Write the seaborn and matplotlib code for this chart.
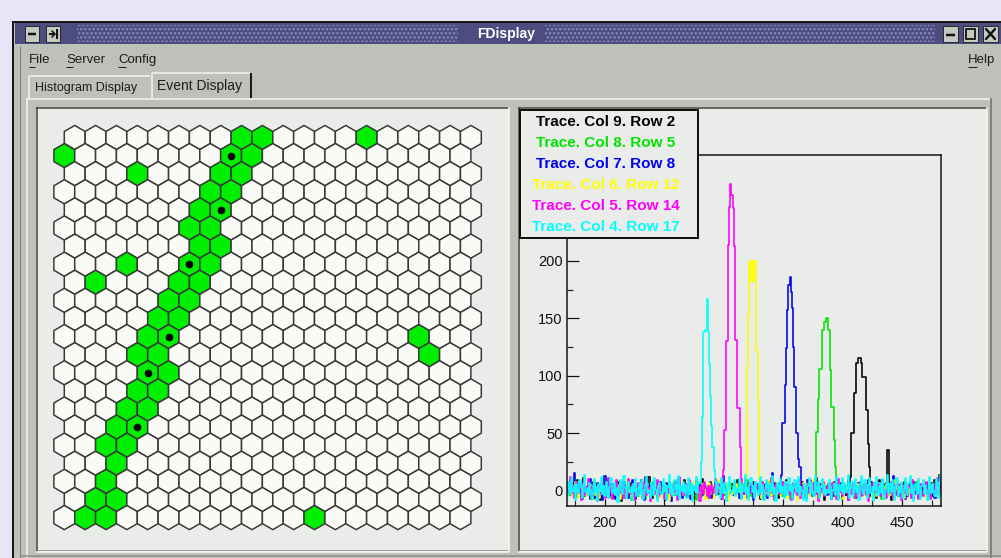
import numpy as np
import pandas as pd
import matplotlib
matplotlib.use("Agg")
import matplotlib.pyplot as plt
from matplotlib.patches import Rectangle
from matplotlib.collections import PolyCollection
import seaborn as sns

# ---------------------------------------------------------------- data
# hit cells of the detector (row, column), 1-based, 22 rows x 20 columns
N_ROWS, N_COLS = 22, 20
GREEN_ROWS = [1, 1, 1, 2, 2, 2, 3, 3, 3, 4, 4, 5, 5, 6, 6, 7, 7, 8, 8, 8,
              9, 9, 9, 10, 10, 11, 11, 12, 12, 12, 13, 13, 13, 14, 14, 15, 15,
              16, 16, 17, 17, 18, 18, 19, 20, 21, 21, 22, 22, 22]
GREEN_COLS = [9, 10, 15, 1, 9, 10, 4, 8, 9, 8, 9, 7, 8, 7, 8, 7, 8, 4, 7, 8,
              2, 6, 7, 6, 7, 5, 6, 5, 6, 18, 4, 5, 18, 5, 6, 4, 5,
              4, 5, 3, 4, 3, 4, 3, 3, 2, 3, 2, 3, 13]

# cells whose traces are shown
TRACE_NAMES = ["Trace. Col 9. Row 2", "Trace. Col 8. Row 5", "Trace. Col 7. Row 8",
               "Trace. Col 6. Row 12", "Trace. Col 5. Row 14", "Trace. Col 4. Row 17"]
TRACE_ROWS = [2, 5, 8, 12, 14, 17]
TRACE_COLS = [9, 8, 7, 6, 5, 4]
TRACE_COLORS = ["#000000", "#00e400", "#0000f0", "#ffff00", "#ff00ff", "#00ffff"]

X_START = 168  # first sample of every trace

NOISE_K = [3,-2,5,1,-4,7,0,-6,2,9,-1,4,-3,6,11,-5,2,0,-2,5,
           -7,1,8,3,-4,0,6,-2,-8,4,2,7,-1,-5,3,10,-3,1,5,-6,
           2,-1,4,8,-4,0,-9,3,6,1,-2,5,-5,2,7,-3,0,4,-7,1,
           6,2,-3,9,0,-4,3,-1,5,12,-2,1,-6,4,2,-3,7,0,-5,3,
           -1,5,2,-8,4,1,6,-2,3,-4,0,8,-1,2,-6,5,3,-3,1,9,
           4,-5,0,7,2,-2,5,-7,3,1,-3,6,0,-1,10,-4,2,4,-6,0,
           3,8,-2,1,-5,4,0,6,-3,2,7,-1,-4,3,1,-8,5,2,-2,6,
           0,-3,4,1,9,-2,3,-6,2,5,-1,0,7,-4,3,1,-2,8,-5,2,
           5,-1,3,-7,0,6,2,-3,4,-1,8,1,-5,3,0,7,-2,4,-6,1,
           -2,6,0,3,-4,9,1,-3,5,2,-7,4,0,6,-1,3,-5,2,8,-3,
           1,4,-6,2,7,-2,0,5,-4,3,11,-1,2,-5,6,0,3,-8,4,1,
           6,-3,2,0,-5,8,3,-1,4,-6,2,7,-2,1,5,-4,0,9,-3,2,
           -4,3,6,1,-2,5,-7,2,0,4,-3,8,1,-1,6,-5,3,2,-2,7,
           2,-6,4,9,-1,3,0,-4,6,2,-3,5,1,-8,4,0,7,-2,3,-5,
           0,5,-3,2,8,-1,4,-5,1,6,-2,3,-6,2,0,7,-3,4,1,-4,
           5,1,-2,7,-4,3,0,6,-5,2,9,-1,3,-3,14,2,-2,5,0,3]
NOISE_G = [0,3,-4,6,1,-2,5,-6,2,8,-1,3,-3,0,7,-5,2,4,-2,1,
           4,-1,2,-7,5,0,3,-3,6,1,-5,2,9,-2,0,4,-6,3,1,-1,
           -3,5,1,-2,4,7,-4,0,3,-6,2,5,-1,3,-8,1,6,0,-3,4,
           2,-5,6,0,-1,3,-7,4,1,5,-2,0,8,-4,2,3,-1,-6,5,1,
           5,0,-3,4,2,-6,1,7,-2,3,0,-4,5,1,-7,6,2,-1,3,-3,
           -1,4,2,-5,6,0,-3,3,1,-8,5,2,-2,7,0,-4,3,1,-6,4,
           3,-2,5,1,-4,8,2,-1,0,4,-6,3,1,-3,6,0,-5,2,7,-1,
           0,6,-4,2,3,-1,5,-7,1,4,-2,0,9,-3,2,-5,4,1,-2,6,
           2,-3,1,5,-6,2,0,4,-2,7,1,-4,3,-1,5,-8,2,6,0,-3,
           4,1,-5,3,0,6,-2,1,-7,4,2,-1,5,-3,0,8,-4,2,3,-2,
           -2,5,0,-4,7,1,-3,4,2,-6,3,0,6,-1,2,-5,4,-2,1,7,
           3,-1,4,2,-5,0,6,-3,1,5,-2,3,-7,2,0,4,-1,5,-4,2,
           1,4,-6,3,0,-2,7,1,-4,2,5,-3,0,6,-1,3,-5,2,4,-2,
           -4,2,5,-1,3,-7,1,4,0,-3,6,2,-2,4,1,-6,3,0,7,-1,
           2,-2,3,6,-4,1,0,5,-3,2,-6,4,1,-1,8,-2,3,-5,2,0,
           5,-3,1,-2,4,2,-5,3,0,6,-1,2,-4,5,1,-3,7,0,-2,3]
NOISE_B = [-2,5,1,9,-3,0,15,4,-5,2,6,-1,3,-7,8,0,-4,3,5,-2,
           10,-1,2,-6,4,0,7,-3,1,5,-8,2,13,-2,0,4,-5,6,1,-3,
           3,-7,6,0,-2,4,1,-4,8,2,-1,5,-6,3,0,9,-3,1,4,-5,
           2,0,-4,6,3,-8,12,1,-2,5,0,-5,3,7,-1,2,-6,4,0,8,
           -3,4,2,-5,7,1,-2,3,-9,5,0,6,-4,2,11,-1,3,-6,1,4,
           6,-2,0,3,-7,5,1,-3,4,9,-2,0,5,-5,2,7,-1,3,-4,0,
           1,5,-6,2,0,8,-3,4,-1,2,-7,6,13,-2,3,0,-5,4,2,-1,
           -4,3,7,-2,1,-6,5,0,3,-3,9,1,-5,2,4,-1,6,-8,2,3,
           5,-1,2,-4,8,0,-3,6,1,-6,3,4,-2,15,0,-5,3,2,-1,7,
           0,-6,4,2,-2,5,3,-8,1,6,-3,2,0,-4,7,1,-2,5,-7,3,
           2,4,-3,9,-1,0,6,-5,3,1,-2,8,-6,4,2,-3,0,5,3,-4,
           -1,6,2,-7,3,4,-2,0,10,-3,5,1,-5,2,6,-1,3,-8,4,0,
           4,-3,1,5,-6,2,7,-1,0,3,-4,6,2,-2,9,-5,1,3,-3,5,
           -5,2,8,0,3,-2,4,-6,1,7,-1,2,-4,5,0,13,-3,2,6,-2,
           3,0,-4,6,2,-7,1,4,-2,5,3,-5,8,0,-1,4,-6,2,1,-3,
           6,-2,3,1,-5,4,0,7,-3,2,-6,5,1,-1,4,8,-4,2,0,9]
NOISE_Y = [1,4,-3,0,6,-5,2,8,-1,3,-6,2,5,-2,0,7,-4,1,3,-3,
           5,-2,0,9,-4,2,3,-6,1,6,-1,4,-3,0,8,-5,2,1,-2,6,
           -3,2,7,-1,4,-7,0,5,2,-4,3,10,-2,1,-5,4,0,6,-3,2,
           4,0,-5,3,8,-2,1,-4,6,0,-7,3,2,-1,5,-3,7,0,-6,3,
           2,-4,6,1,-2,4,-8,3,0,7,-3,2,5,-5,1,9,-1,3,-4,0,
           -1,6,0,-3,5,2,-6,8,1,-2,4,0,-5,3,6,-1,2,-7,4,1,
           7,-3,2,4,-6,1,3,-1,9,0,-4,5,2,-2,0,6,-8,3,1,-3,
           0,3,-5,6,2,-1,8,-4,1,3,-7,4,0,5,-2,1,-4,7,2,-6,
           3,-1,4,0,-6,7,2,-3,5,1,-2,9,-5,2,0,4,-3,6,-1,2,
           -4,5,1,-2,3,8,-6,0,4,-3,2,6,-1,3,-8,1,5,-2,0,7,
           2,-3,6,1,-5,4,0,9,-2,3,-6,2,5,-1,4,-4,1,8,-3,0,
           5,0,-4,3,7,-2,2,-6,1,5,-3,4,0,-7,6,2,-1,3,-5,4,
           -2,4,1,-5,2,6,-3,0,8,-1,3,-4,5,1,-2,7,0,-6,3,2,
           3,-5,7,0,-2,4,1,-7,3,6,-1,2,-4,5,0,3,-3,9,1,-2,
           0,6,-2,4,-6,1,5,-1,2,-3,7,0,-5,3,2,-2,6,1,-4,5,
           4,-2,3,-6,0,8,-3,2,5,-1,1,-5,4,7,-2,0,3,-4,6,2]
NOISE_M = [2,-3,6,12,-1,4,-6,0,8,3,-2,5,-8,1,7,-4,3,0,10,-2,
           4,-5,1,7,-1,3,-9,5,2,-3,8,0,-6,4,1,11,-2,3,-7,6,
           -1,2,9,-4,0,5,-2,7,-6,3,1,-5,10,2,-3,6,0,-8,4,2,
           7,-2,3,0,-6,8,1,-4,5,2,-9,4,0,6,-3,1,9,-5,2,-1,
           3,5,-7,1,4,-2,8,0,-5,3,6,-1,2,-8,5,12,-3,1,4,-4,
           0,6,-3,9,-1,2,-6,4,1,7,-2,3,-9,5,0,-3,8,2,-5,4,
           -6,1,5,-2,3,10,-4,0,6,-1,2,-7,4,8,-3,1,5,-5,2,9,
           2,-4,7,0,-8,3,5,-1,4,-3,9,1,-6,2,7,-2,0,4,-5,3,
           6,1,-3,4,-1,8,-6,2,0,5,-4,3,11,-2,1,-7,6,0,3,-3,
           -2,4,8,-5,2,0,6,-3,1,-8,4,7,-1,3,-4,2,9,-6,1,5,
           3,-6,2,5,-2,9,0,-4,7,1,-3,4,-9,6,2,-1,8,-5,3,0,
           5,2,-4,1,7,-3,3,-7,0,10,-1,4,-5,2,6,-2,0,-8,5,3,
           -3,7,1,-6,4,0,-2,8,-5,3,1,6,-4,2,-9,5,0,7,-1,2,
           4,-1,6,2,-5,3,9,-3,1,-6,4,0,-2,8,3,-7,5,1,-4,6,
           1,5,-8,3,-2,7,0,-4,4,2,-6,9,-1,3,-3,5,-7,2,6,0,
           -5,3,2,8,-3,1,-7,4,0,6,-2,3,11,-4,2,-1,5,-6,3,7]
NOISE_C = [-5,8,2,-3,11,0,4,-8,6,1,-2,9,3,-6,5,14,-1,2,-4,7,
           1,-7,5,10,-2,3,-9,6,0,12,-3,4,-5,8,1,-6,3,11,-2,0,
           7,-4,2,-10,5,9,0,-3,13,2,-6,4,8,-1,3,-8,6,0,10,-5,
           2,6,-3,9,-7,1,5,12,-2,0,-6,8,3,-4,11,1,-9,4,7,-1,
           -3,10,0,5,-8,3,14,-2,6,-5,1,9,-4,2,13,-7,4,0,8,-2,
           5,-6,11,1,-3,7,-9,4,0,12,-2,6,-7,3,9,-1,5,-5,2,10,
           -8,3,6,-1,13,0,-4,8,2,-6,11,4,-2,7,-9,1,5,12,-3,0,
           4,9,-5,2,-1,10,3,-7,6,0,14,-3,2,-8,5,11,-1,4,-6,8,
           0,-4,7,12,-2,5,-8,1,9,3,-5,6,0,13,-3,2,-9,7,4,-1,
           10,-2,3,-6,8,1,-4,11,0,5,-7,2,9,-1,4,12,-5,3,0,-8,
           6,2,-9,4,11,-3,7,0,-5,13,2,-1,8,-6,3,10,-2,5,-4,1,
           -2,9,3,-7,1,6,-4,12,2,-8,5,0,11,-3,7,-1,4,14,-6,2,
           8,-5,2,10,-1,4,-8,6,13,0,-3,9,1,-6,5,11,-2,3,-9,7,
           1,12,-4,3,7,-2,10,-7,0,5,14,-3,6,-1,9,2,-8,4,11,-5,
           3,-1,8,-6,2,11,0,-4,7,13,-2,5,-9,1,6,-3,10,0,-7,4,
           9,-3,5,1,-8,12,3,-2,6,0,-5,10,2,-6,8,14,-1,3,-4,11]

# pulse shapes: (first sample, values)
PULSE_K = (407, [12, 50, 50, 85, 85, 111, 111, 115, 115, 111, 99, 99, 99, 70, 70, 41, 21, 8])
SPIKE_K = (438, [35, 35])
PULSE_G = (377, [10, 51, 51, 80, 106, 106, 140, 140, 147, 147, 150, 140, 140, 105, 73, 73, 44, 21, 8])
PULSE_B = (349, [14, 59, 59, 92, 124, 157, 179, 186, 173, 159, 125, 90, 50, 50, 28, 21, 21, 5])
PULSE_Y = (319, [12, 108, 154, 200, 182, 200, 182, 200, 200, 122, 79, 10])
PULSE_M = (300, [18, 53, 130, 130, 214, 247, 267, 257, 246, 213, 131, 131, 72, 72, 38, 10])
PULSE_C = (280, [8, 25, 64, 138, 138, 140, 167, 138, 110, 82, 56, 38, 18, 8])

X_TICKS = [200, 250, 300, 350, 400, 450]
Y_TICKS = [0, 50, 100, 150, 200]


def build_trace(noise, *pulses):
    vals = list(noise)
    for start, seg in pulses:
        i0 = start - X_START
        vals[i0:i0 + len(seg)] = seg
    return vals


TRACES = [build_trace(NOISE_K, PULSE_K, SPIKE_K), build_trace(NOISE_G, PULSE_G),
          build_trace(NOISE_B, PULSE_B), build_trace(NOISE_Y, PULSE_Y),
          build_trace(NOISE_M, PULSE_M), build_trace(NOISE_C, PULSE_C)]

# ---------------------------------------------------------------- style
W, H = 1001, 558
sns.set_theme(style="white")
plt.rcParams["font.family"] = ["Liberation Sans", "DejaVu Sans"]
plt.rcParams["hatch.linewidth"] = 1.2

GUI = "#bdc1b9"
PANEL = "#e9ece8"
PX = 0.72  # points per pixel at 100 dpi

fig = plt.figure(figsize=(W / 100, H / 100), dpi=100)
fig.patch.set_facecolor("#e6e6f8")


def px_axes(x0, y0, x1, y1, z=1):
    return fig.add_axes([x0 / W, 1 - y1 / H, (x1 - x0) / W, (y1 - y0) / H], zorder=z)


chrome = px_axes(0, 0, W, H, z=0)
chrome.set_xlim(0, W)
chrome.set_ylim(H, 0)
chrome.axis("off")


def rect(ax, x0, y0, x1, y1, fc, ec="none", lw=0, **kw):
    ax.add_patch(Rectangle((x0, y0), x1 - x0, y1 - y0, facecolor=fc, edgecolor=ec,
                           linewidth=lw, **kw))


def hline(ax, x0, x1, y, c, lw=1):
    ax.plot([x0, x1], [y, y], color=c, lw=lw * PX, solid_capstyle="butt")


def vline(ax, x, y0, y1, c, lw=1):
    ax.plot([x, x], [y0, y1], color=c, lw=lw * PX, solid_capstyle="butt")


# window body and border
rect(chrome, 13, 22, W + 2, H + 2, GUI, "#151515", 2 * PX)
vline(chrome, 19.5, 46, H, "#7d8079", 1)

# title bar
rect(chrome, 15, 23, W, 44, "#4c4c80")
for x0, x1 in [(77, 458), (545, 935)]:
    rect(chrome, x0, 25, x1, 42, "none", "#8a8abf", 0, hatch="....")
chrome.text(506, 34, "FDisplay", color="white", fontsize=10, fontweight="bold",
            ha="center", va="center")

# title bar buttons
for bx0, bx1 in [(25, 39), (46, 60), (943, 958), (963, 978), (983, 998)]:
    rect(chrome, bx0, 26, bx1, 42, "#c6c9c2", "#2a2a2a", 1 * PX)
hline(chrome, 28, 36, 34, "#111111", 2.5)
hline(chrome, 49, 55, 34, "#111111", 2)
vline(chrome, 56.5, 29, 39, "#111111", 2)
chrome.plot([52, 55, 52], [31, 34, 37], color="#111111", lw=1.6 * PX)
hline(chrome, 946, 955, 35, "#111111", 2.5)
rect(chrome, 966, 29, 975, 39, "none", "#111111", 1.8 * PX)
chrome.plot([986, 995], [29, 39], color="#111111", lw=2.4 * PX)
chrome.plot([986, 995], [39, 29], color="#111111", lw=2.4 * PX)

# menu bar
for x, label in [(29, "File"), (66, "Server"), (118, "Config")]:
    chrome.text(x, 60, label, fontsize=9.5, color="#1c1c1c", ha="left", va="center")
chrome.text(995, 60, "Help", fontsize=9.5, color="#1c1c1c", ha="right", va="center")
for x0, x1 in [(29, 35), (66, 73), (118, 126), (968, 977)]:
    hline(chrome, x0, x1, 66.5, "#1c1c1c", 1)

# notebook frame
hline(chrome, 26, 990, 98.5, "#f4f6f2", 1.5)
vline(chrome, 26.5, 98, H, "#f4f6f2", 1.5)
vline(chrome, 990.5, 98, H, "#6c6f69", 1.5)

# tabs
rect(chrome, 28, 75, 151, 98, GUI)
hline(chrome, 29, 150, 75.5, "#f4f6f2", 1.5)
vline(chrome, 28.5, 76, 98, "#f4f6f2", 1.5)
rect(chrome, 151, 72, 252, 100, GUI)
hline(chrome, 152, 250, 72.5, "#f4f6f2", 1.5)
vline(chrome, 151.5, 73, 98, "#f4f6f2", 1.5)
vline(chrome, 251, 73, 98, "#1a1a1a", 2)
chrome.text(35, 88, "Histogram Display", fontsize=9, color="#1c1c1c", ha="left", va="center")
chrome.text(157, 86, "Event Display", fontsize=10, color="#1c1c1c", ha="left", va="center")

# sunken panels
for x0, x1 in [(36, 509), (518, 987)]:
    rect(chrome, x0, 107, x1, 552, PANEL)
    hline(chrome, x0, x1, 107.5, "#3c3c3c", 1.5)
    vline(chrome, x0 + 0.5, 107, 552, "#3c3c3c", 1.5)
    hline(chrome, x0, x1, 551.5, "#f6f8f4", 1.5)
    vline(chrome, x1 - 0.5, 107, 552, "#f6f8f4", 1.5)
    hline(chrome, x0 + 1, x1 - 1, 549.5, "#9a9d96", 1)
hline(chrome, 20, W, 555.5, "#8a8d86", 1.5)

# ---------------------------------------------------------------- hex map
hexax = px_axes(43.45, 119.4, 481.3, 535.7, z=2)
hexax.set_xlim(-1, N_COLS)
hexax.set_ylim(N_ROWS, -1)
hexax.axis("off")

rows = np.repeat(np.arange(1, N_ROWS + 1), N_COLS)
cols = np.tile(np.arange(1, N_COLS + 1), N_ROWS)
hx = (cols - 1) + 0.5 * (rows % 2)
hy = rows - 1.0
shape = np.array([[0, -2 / 3], [0.5, -1 / 3], [0.5, 1 / 3],
                  [0, 2 / 3], [-0.5, 1 / 3], [-0.5, -1 / 3]])
verts = [shape + [x, y] for x, y in zip(hx, hy)]
green = set(zip(GREEN_ROWS, GREEN_COLS))
face = ["#00ee00" if (r, c) in green else "#fafaf7" for r, c in zip(rows, cols)]
cells = PolyCollection(verts, facecolors=face, edgecolors="#383838",
                       linewidths=1.5 * PX)
cells.set_clip_on(False)
hexax.add_collection(cells)

dots = pd.DataFrame({"x": (np.array(TRACE_COLS) - 1) + 0.5 * (np.array(TRACE_ROWS) % 2),
                     "y": np.array(TRACE_ROWS) - 1.0})
sns.scatterplot(data=dots, x="x", y="y", color="black", s=30, linewidth=0,
                ax=hexax, zorder=5)
hexax.set_xlim(-1, N_COLS)
hexax.set_ylim(N_ROWS, -1)
hexax.axis("off")

# ---------------------------------------------------------------- traces
tax = px_axes(567, 155, 941, 506, z=2)
tax.set_facecolor(PANEL)
frames = []
for name, vals in zip(TRACE_NAMES, TRACES):
    frames.append(pd.DataFrame({"x": X_START + np.arange(len(vals)), "adc": vals,
                                "trace": name}))
long = pd.concat(frames, ignore_index=True)
sns.lineplot(data=long, x="x", y="adc", hue="trace", hue_order=TRACE_NAMES,
             palette=TRACE_COLORS, drawstyle="steps-mid", estimator=None,
             linewidth=1.6 * PX, legend=False, ax=tax)
tax.set_xlim(168, 483)
tax.set_ylim(-13.3, 292)
tax.set_xlabel("")
tax.set_ylabel("")
tax.set_xticks(X_TICKS)
tax.set_yticks(Y_TICKS)
tax.set_xticks(np.arange(175, 483, 25), minor=True)
tax.set_yticks(np.arange(25, 292, 25), minor=True)
for s in tax.spines.values():
    s.set_color("#111111")
    s.set_linewidth(1.5 * PX)
tax.tick_params(axis="x", which="major", direction="in", length=7 * PX, width=1.2 * PX,
                pad=7, labelsize=10.5, colors="#111111", bottom=True)
tax.tick_params(axis="x", which="minor", direction="in", length=6 * PX, width=1.2 * PX,
                bottom=True)
tax.tick_params(axis="y", which="major", direction="in", length=12 * PX, width=1.2 * PX,
                pad=3, labelsize=10.5, colors="#111111", left=True)
tax.tick_params(axis="y", which="minor", direction="in", length=6 * PX, width=1.2 * PX,
                left=True)

# legend box drawn above the trace frame
over = px_axes(0, 0, W, H, z=3)
over.set_xlim(0, W)
over.set_ylim(H, 0)
over.axis("off")
over.patch.set_alpha(0)
rect(over, 520, 110, 698, 238, PANEL, "#111111", 2 * PX)
for i, (name, col) in enumerate(zip(TRACE_NAMES, TRACE_COLORS)):
    over.text(606, 126 + 21 * i, name, color=col, fontsize=11, fontweight="bold",
              ha="center", va="baseline")

fig.savefig("out.png", dpi=100, facecolor=fig.get_facecolor())
